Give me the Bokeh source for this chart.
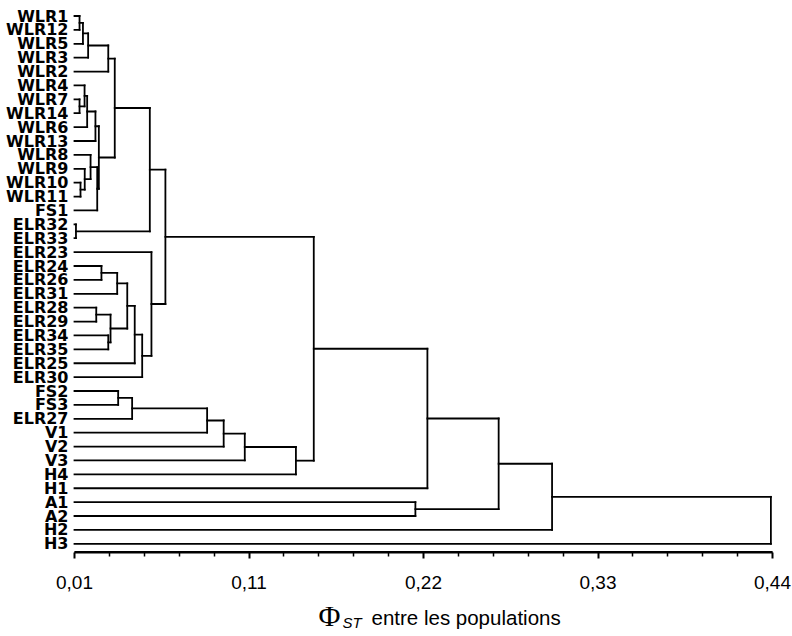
from bokeh.plotting import figure
from bokeh.models import Range1d, FixedTicker
from bokeh.core.properties import value
from bokeh.embed import file_html
from bokeh.resources import INLINE

# ---------------- data ----------------
leaves = ["WLR1", "WLR12", "WLR5", "WLR3", "WLR2", "WLR4", "WLR7", "WLR14", "WLR6",
          "WLR13", "WLR8", "WLR9", "WLR10", "WLR11", "FS1", "ELR32", "ELR33", "ELR23",
          "ELR24", "ELR26", "ELR31", "ELR28", "ELR29", "ELR34", "ELR35", "ELR25",
          "ELR30", "FS2", "FS3", "ELR27", "V1", "V2", "V3", "H4", "H1", "A1", "A2",
          "H2", "H3"]

# merge k creates cluster "c{k+1}" from (merge_left[k], merge_right[k]) at Phi_ST = merge_height[k]
merge_left = ["WLR1", "c1", "c2", "c3", "WLR7", "WLR4", "c6", "c7", "WLR10", "WLR9",
              "WLR8", "c11", "c8", "c4", "ELR32", "c14", "ELR24", "c17", "ELR28",
              "ELR34", "c19", "c18", "c22", "c23", "ELR23", "c16", "FS2", "c27", "c28",
              "c29", "c30", "c31", "c26", "c33", "A1", "c34", "c36", "c37"]
merge_right = ["WLR12", "WLR5", "WLR3", "WLR2", "WLR14", "c5", "WLR6", "WLR13", "WLR11",
               "c9", "c10", "FS1", "c12", "c13", "ELR33", "c15", "ELR26", "ELR31",
               "ELR29", "ELR35", "c20", "c21", "ELR25", "ELR30", "c24", "c25", "FS3",
               "ELR27", "V1", "V2", "V3", "H4", "c32", "H1", "A2", "c35", "H2", "H3"]
merge_height = [0.0131, 0.0152, 0.0184, 0.0308, 0.0131, 0.0162, 0.0178, 0.0229, 0.0137,
                0.0163, 0.0199, 0.0240, 0.0250, 0.0348, 0.0109, 0.0564, 0.0266, 0.0363,
                0.0234, 0.0308, 0.0322, 0.0425, 0.0471, 0.0517, 0.0574, 0.0660, 0.0369,
                0.0455, 0.0917, 0.1019, 0.1149, 0.1464, 0.1574, 0.2274, 0.2200, 0.2713,
                0.3042, 0.4390]

phi_min = 0.01
phi_max = 0.44
tick_values = [0.01, 0.1175, 0.225, 0.3325, 0.44]
tick_labels = ["0,01", "0,11", "0,22", "0,33", "0,44"]

# ---------------- dendrogram geometry ----------------
pos = {name: (i, phi_min) for i, name in enumerate(leaves)}
x0, y0, x1, y1 = [], [], [], []
for k, (l, r, h) in enumerate(zip(merge_left, merge_right, merge_height)):
    yl, hl = pos[l]
    yr, hr = pos[r]
    x0 += [hl, hr]; y0 += [yl, yr]; x1 += [h, h]; y1 += [yl, yr]
    x0.append(h); y0.append(yl); x1.append(h); y1.append(yr)
    pos["c%d" % (k + 1)] = ((yl + yr) / 2.0, h)

# ---------------- figure (frame = whole canvas, axes at fixed locations) ----------------
n = len(leaves)
W, H = 792, 636
left_px, right_px = 74, 772          # canvas x of phi_min and phi_max
first_row_px = 15.5                  # canvas y of the first leaf
row_px = 13.889                      # vertical pixels per leaf row
axis_px = 551.5                      # canvas y of the x axis
phi_per_px = (phi_max - phi_min) / (right_px - left_px)
x_start = phi_min - left_px * phi_per_px
x_end = phi_max + (W - right_px) * phi_per_px
y_top = -first_row_px / row_px
y_bottom = y_top + H / row_px
axis_y = y_top + axis_px / row_px

p = figure(width=W, height=H,
           x_range=Range1d(x_start, x_end),
           y_range=Range1d(y_bottom, y_top),
           output_backend="svg", toolbar_location=None,
           min_border_left=0, min_border_right=0,
           min_border_top=0, min_border_bottom=0)
p.outline_line_color = None
p.xgrid.visible = False
p.ygrid.visible = False

p.segment(x0=x0, y0=y0, x1=x1, y1=y1, line_color="black",
          line_width=1.8, line_cap="square")

minor = []
for a, b in zip(tick_values[:-1], tick_values[1:]):
    minor += [a + (b - a) * j / 5.0 for j in range(1, 5)]
xa = p.xaxis[0]
xa.fixed_location = axis_y
xa.bounds = (phi_min, phi_max)
xa.ticker = FixedTicker(ticks=tick_values, minor_ticks=minor)
xa.major_label_overrides = dict(zip(tick_values, tick_labels))
xa.major_label_text_font = "Liberation Sans"
xa.major_label_text_font_size = "19px"
xa.major_label_text_color = "black"
xa.major_label_standoff = 18
xa.axis_line_width = 2
xa.axis_line_color = "black"
xa.major_tick_in = 0
xa.major_tick_out = 6
xa.major_tick_line_width = 2
xa.minor_tick_in = 0
xa.minor_tick_out = 4
xa.minor_tick_line_width = 1.5
# axis rule along the axis bounds
p.segment(x0=[phi_min], y0=[axis_y], x1=[phi_max], y1=[axis_y],
          line_color="black", line_width=2)

ya = p.yaxis[0]
ya.fixed_location = phi_min
ya.ticker = FixedTicker(ticks=list(range(n)))
ya.major_label_overrides = {i: name for i, name in enumerate(leaves)}
ya.axis_line_color = None
ya.major_tick_line_color = None
ya.minor_tick_line_color = None
ya.major_tick_out = 0
ya.major_tick_in = 0
ya.major_label_text_font = "DejaVu Sans"
ya.major_label_text_font_style = "bold"
ya.major_label_text_font_size = "16px"
ya.major_label_text_color = "black"
ya.major_label_standoff = 6

# axis title "Φ_ST entre les populations"
def px_to_phi(px):
    return x_start + px * phi_per_px

def py_to_row(py):
    return y_top + py / row_px

p.text(x=[px_to_phi(318)], y=[py_to_row(615)], text=["Φ"],
       text_font=value("Liberation Serif"), text_font_size="30px",
       text_baseline="alphabetic", text_align="left", text_color="black")
p.text(x=[px_to_phi(342)], y=[py_to_row(622)], text=["ST"],
       text_font=value("Liberation Sans"), text_font_style="italic",
       text_font_size="15px", text_baseline="middle", text_align="left",
       text_color="black")
p.text(x=[px_to_phi(371)], y=[py_to_row(617)], text=["entre les populations"],
       text_font=value("Liberation Sans"), text_font_size="20.5px",
       text_baseline="alphabetic", text_align="left", text_color="black")

open("out.html", "w").write(file_html(p, INLINE))
